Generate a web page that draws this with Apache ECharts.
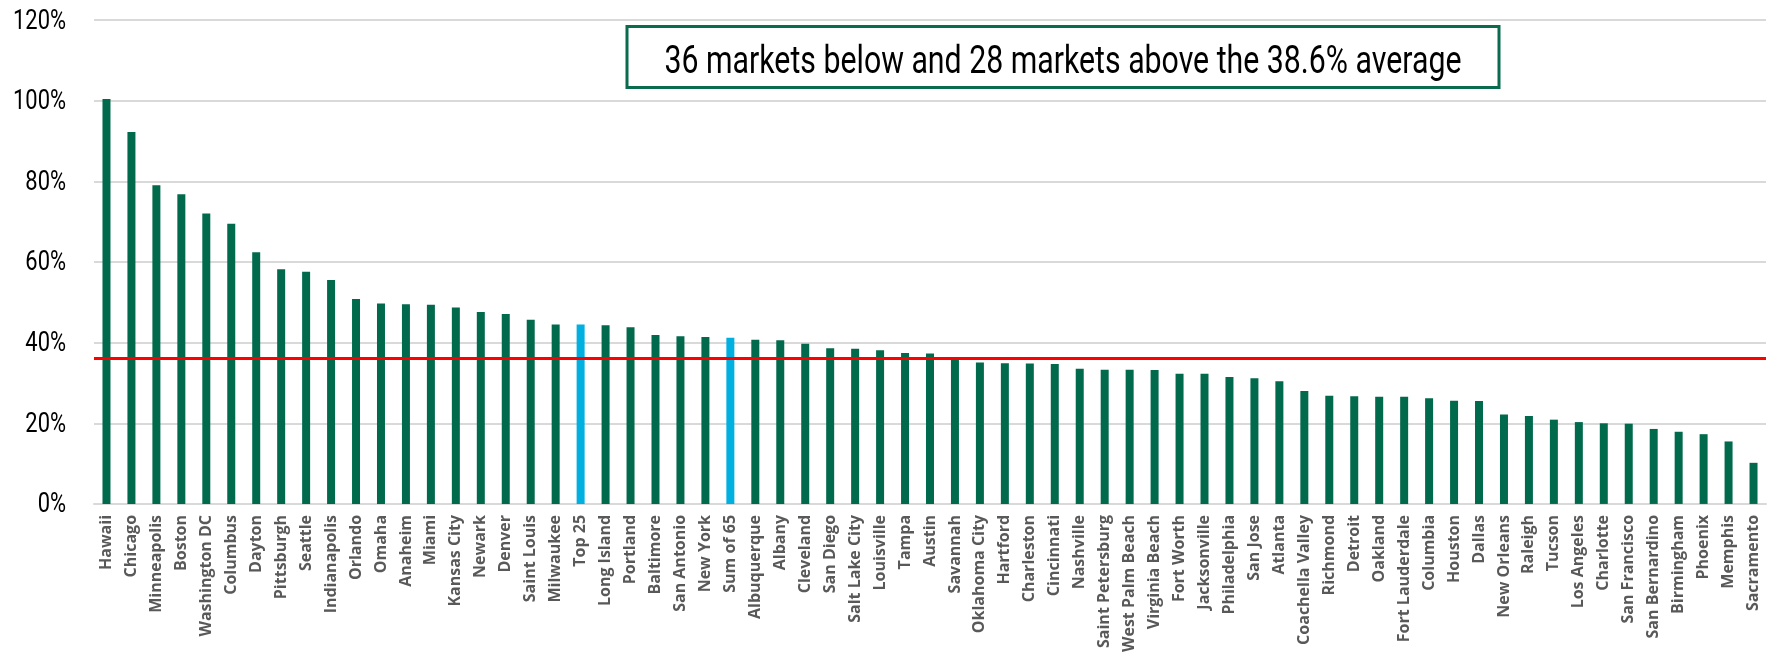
<!DOCTYPE html>
<html>
<head>
<meta charset="utf-8">
<script src="https://cdn.jsdelivr.net/npm/echarts@6/dist/echarts.min.js"></script>
<style>
html,body{margin:0;padding:0;background:#fff;}
#chart{width:1767px;height:655px;}
</style>
</head>
<body>
<div id="chart"></div>
<script>
const categories = ["Hawaii","Chicago","Minneapolis","Boston","Washington DC","Columbus","Dayton","Pittsburgh","Seattle","Indianapolis","Orlando","Omaha","Anaheim","Miami","Kansas City","Newark","Denver","Saint Louis","Milwaukee","Top 25","Long Island","Portland","Baltimore","San Antonio","New York","Sum of 65","Albuquerque","Albany","Cleveland","San Diego","Salt Lake City","Louisville","Tampa","Austin","Savannah","Oklahoma City","Hartford","Charleston","Cincinnati","Nashville","Saint Petersburg","West Palm Beach","Virginia Beach","Fort Worth","Jacksonville","Philadelphia","San Jose","Atlanta","Coachella Valley","Richmond","Detroit","Oakland","Fort Lauderdale","Columbia","Houston","Dallas","New Orleans","Raleigh","Tucson","Los Angeles","Charlotte","San Francisco","San Bernardino","Birmingham","Phoenix","Memphis","Sacramento"];
const values = [100.4,92.2,79.0,76.8,72.0,69.5,62.4,58.2,57.6,55.5,50.8,49.7,49.5,49.4,48.7,47.6,47.1,45.7,44.5,44.5,44.3,43.8,41.9,41.6,41.4,41.2,40.7,40.6,39.7,38.6,38.5,38.1,37.4,37.3,36.2,35.1,34.9,34.8,34.7,33.5,33.3,33.3,33.2,32.3,32.3,31.5,31.2,30.4,28.0,26.8,26.7,26.6,26.6,26.2,25.6,25.5,22.2,21.8,20.9,20.3,20.0,19.9,18.6,17.9,17.3,15.5,10.2];
const highlighted = ["Top 25","Sum of 65"];
const referenceLine = 36.1;
const yTicks = [0,20,40,60,80,100,120];
const yTickLabels = ["0%","20%","40%","60%","80%","100%","120%"];
const annotation = "36 markets below and 28 markets above the 38.6% average";

const GREEN = "#026A4C", BLUE = "#00B0E0";
const CFONT = "Roboto";

// measure natural text widths to emulate a condensed face
const mctx = document.createElement('canvas').getContext('2d');
function natWidth(txt, size){ mctx.font = size + "px " + CFONT; return mctx.measureText(txt).width; }

const chart = echarts.init(document.getElementById('chart'), null, {renderer:'canvas'});
chart.setOption({
  animation:false,
  backgroundColor:'#fff',
  grid:{left:94,right:1,top:20,bottom:148,containLabel:false},
  xAxis:{
    type:'category',
    data:categories,
    axisLine:{show:true,lineStyle:{color:'#d9d9d9',width:2}},
    axisTick:{show:false},
    axisLabel:{interval:0,rotate:90,margin:11,color:'#595959',fontFamily:"'Open Sans',sans-serif",fontWeight:'bold',fontSize:16}
  },
  yAxis:{
    type:'value',
    min:yTicks[0], max:yTicks[yTicks.length-1], interval:20,
    axisLine:{show:false}, axisTick:{show:false},
    splitLine:{lineStyle:{color:'#d9d9d9',width:2}},
    axisLabel:{show:false}
  },
  series:[{
    type:'bar',
    barWidth:8,
    data:values.map((v,i)=>({value:v,itemStyle:{color:highlighted.includes(categories[i])?BLUE:GREEN}})),
    markLine:{
      silent:true,symbol:['none','none'],
      label:{show:false},
      lineStyle:{color:'#FF0000',width:3,type:'solid'},
      data:[{yAxis:referenceLine}]
    }
  }]
});

// y-axis tick labels placed through the axis scale, rendered condensed
const ySize = 28, yScale = 53 / natWidth("100%", ySize);
const graphics = yTicks.map((t,i)=>{
  const py = chart.convertToPixel({yAxisIndex:0}, t) + 1.5;
  return {type:'text', id:'yl'+i, x:66, y:py, scaleX:yScale, originX:0, originY:0,
    style:{text:yTickLabels[i], fill:'#000', font:ySize+"px "+CFONT, textAlign:'right', textVerticalAlign:'middle'}};
});
const aSize = 39, aScale = 797 / natWidth(annotation, aSize);
graphics.push({type:'rect', id:'abox', shape:{x:627,y:26.5,width:872,height:61}, style:{fill:'#fff',stroke:'#0B6B4F',lineWidth:3}});
graphics.push({type:'text', id:'atext', x:1063, y:63, scaleX:aScale, originX:0, originY:0,
  style:{text:annotation, fill:'#000', font:aSize+"px "+CFONT, textAlign:'center', textVerticalAlign:'middle'}});
chart.setOption({graphic:graphics});
</script>
</body>
</html>
